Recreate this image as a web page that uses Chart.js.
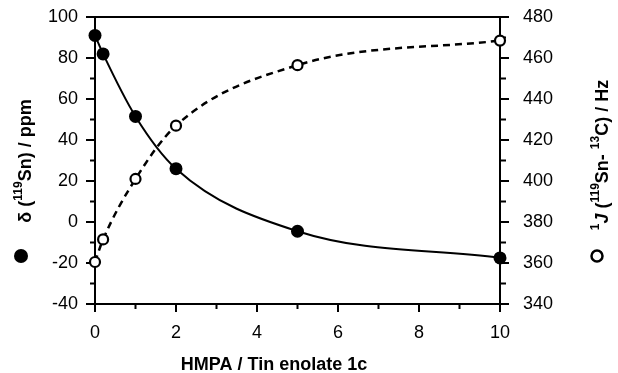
<!DOCTYPE html>
<html>
<head>
<meta charset="utf-8">
<script src="https://cdn.jsdelivr.net/npm/chart.js@4/dist/chart.umd.min.js"></script>
<style>
html,body{margin:0;padding:0;background:#fff;}
#wrap{width:618px;height:373px;position:relative;}
</style>
</head>
<body>
<div id="wrap"><canvas id="c" width="618" height="373"></canvas></div>
<script>
// HMPA / Tin enolate ratio
const ratioValues = [0, 0.2, 1, 2, 5, 10];
// delta(119Sn) / ppm  (filled circles, left axis)
const shiftValues = [91, 82, 51.5, 26, -4.5, -17.5];
// 1J(119Sn-13C) / Hz (open circles, right axis)
const couplingValues = [360.5, 371.5, 401, 427, 456.5, 468.5];

const xTicks = [0, 2, 4, 6, 8, 10];
const leftTicks = [-40, -20, 0, 20, 40, 60, 80, 100];
const rightTicks = [340, 360, 380, 400, 420, 440, 460, 480];

const FONT = "'Liberation Sans', Arial, Helvetica, sans-serif";

function drawRich(ctx, parts, size, supSize, supRise) {
  let w = 0;
  parts.forEach(p => {
    ctx.font = (p.italic ? 'italic ' : '') + 'bold ' + (p.sup ? supSize : size) + 'px ' + FONT;
    p.w = ctx.measureText(p.t).width;
    w += p.w;
  });
  let x = -w / 2;
  parts.forEach(p => {
    ctx.font = (p.italic ? 'italic ' : '') + 'bold ' + (p.sup ? supSize : size) + 'px ' + FONT;
    ctx.fillText(p.t, x, p.sup ? -supRise : 0);
    x += p.w;
  });
}

const framePlugin = {
  id: 'frame',
  beforeDatasetsDraw(chart) {
    const ctx = chart.ctx;
    const a = chart.chartArea;
    const xs = chart.scales.x, yl = chart.scales.yL, yr = chart.scales.yR;
    ctx.save();
    ctx.strokeStyle = '#000';
    ctx.lineWidth = 2;
    ctx.strokeRect(a.left, a.top, a.right - a.left, a.bottom - a.top);
    ctx.beginPath();
    for (let v = 0; v <= 10; v += 1) {
      const px = xs.getPixelForValue(v);
      const len = (v % 2 === 0) ? 8 : 5;
      ctx.moveTo(px, a.bottom - 1);
      ctx.lineTo(px, a.bottom + len);
    }
    for (let v = -40; v <= 100; v += 10) {
      const py = yl.getPixelForValue(v);
      const len = (v % 20 === 0) ? 9 : 5;
      ctx.moveTo(a.left + 1, py);
      ctx.lineTo(a.left - len, py);
    }
    for (let v = 340; v <= 480; v += 10) {
      const py = yr.getPixelForValue(v);
      const len = (v % 20 === 0) ? 9 : 6;
      ctx.moveTo(a.right - 1, py);
      ctx.lineTo(a.right + len, py);
    }
    ctx.stroke();
    ctx.restore();
  },
  afterDraw(chart) {
    const ctx = chart.ctx;
    ctx.save();
    ctx.fillStyle = '#000';
    ctx.textBaseline = 'middle';
    ctx.font = 'bold 18px ' + FONT;
    ctx.textAlign = 'center';
    ctx.fillText('HMPA / Tin enolate 1c', 274, 365);
    ctx.textAlign = 'left';
    ctx.save();
    ctx.translate(26, 161);
    ctx.rotate(-Math.PI / 2);
    drawRich(ctx, [
      {t: 'δ ('}, {t: '119', sup: true}, {t: 'Sn) / ppm'}
    ], 18, 12, 7);
    ctx.restore();
    ctx.save();
    ctx.translate(603, 155);
    ctx.rotate(-Math.PI / 2);
    drawRich(ctx, [
      {t: '1', sup: true}, {t: 'J', italic: true}, {t: ' ('}, {t: '119', sup: true},
      {t: 'Sn- '}, {t: '13', sup: true}, {t: 'C) / Hz'}
    ], 18, 12, 7);
    ctx.restore();
    ctx.beginPath();
    ctx.arc(21, 256, 7, 0, Math.PI * 2);
    ctx.fill();
    ctx.beginPath();
    ctx.lineWidth = 2.5;
    ctx.strokeStyle = '#000';
    ctx.arc(597, 256, 5.5, 0, Math.PI * 2);
    ctx.stroke();
    ctx.restore();
  }
};

function noPad(s) { s.paddingTop = 0; s.paddingBottom = 0; s.paddingLeft = 0; s.paddingRight = 0; }

new Chart(document.getElementById('c'), {
  type: 'line',
  data: {
    datasets: [
      {
        label: 'coupling',
        data: ratioValues.map((x, i) => ({x: x, y: couplingValues[i]})),
        yAxisID: 'yR',
        borderColor: '#000',
        borderWidth: 2.5,
        borderDash: [7, 5],
        cubicInterpolationMode: 'monotone',
        pointRadius: 5,
        pointBorderWidth: 2.2,
        pointBackgroundColor: '#fff',
        pointBorderColor: '#000',
        clip: false,
        order: 2
      },
      {
        label: 'shift',
        data: ratioValues.map((x, i) => ({x: x, y: shiftValues[i]})),
        yAxisID: 'yL',
        borderColor: '#000',
        borderWidth: 2,
        cubicInterpolationMode: 'monotone',
        pointRadius: 6.5,
        pointBorderWidth: 0,
        pointBackgroundColor: '#000',
        pointBorderColor: '#000',
        clip: false,
        order: 1
      }
    ]
  },
  options: {
    responsive: false,
    animation: false,
    layout: {padding: {top: 17, left: 0, right: 0, bottom: 0}},
    plugins: {legend: {display: false}, tooltip: {enabled: false}},
    scales: {
      x: {
        type: 'linear', min: 0, max: 10,
        afterFit(s) { s.height = 69; noPad(s); },
        afterBuildTicks(s) { s.ticks = xTicks.map(v => ({value: v})); },
        grid: {display: false, drawTicks: false},
        border: {display: false},
        ticks: {color: '#000', font: {family: FONT, size: 18}, padding: 18, maxRotation: 0}
      },
      yL: {
        type: 'linear', position: 'left', min: -40, max: 100,
        afterFit(s) { s.width = 95; noPad(s); },
        afterBuildTicks(s) { s.ticks = leftTicks.map(v => ({value: v})); },
        grid: {display: false, drawTicks: false},
        border: {display: false},
        ticks: {color: '#000', font: {family: FONT, size: 18}, padding: 17}
      },
      yR: {
        type: 'linear', position: 'right', min: 340, max: 480,
        afterFit(s) { s.width = 118; noPad(s); },
        afterBuildTicks(s) { s.ticks = rightTicks.map(v => ({value: v})); },
        grid: {display: false, drawTicks: false},
        border: {display: false},
        ticks: {color: '#000', font: {family: FONT, size: 18}, padding: 23}
      }
    }
  },
  plugins: [framePlugin]
});
</script>
</body>
</html>
